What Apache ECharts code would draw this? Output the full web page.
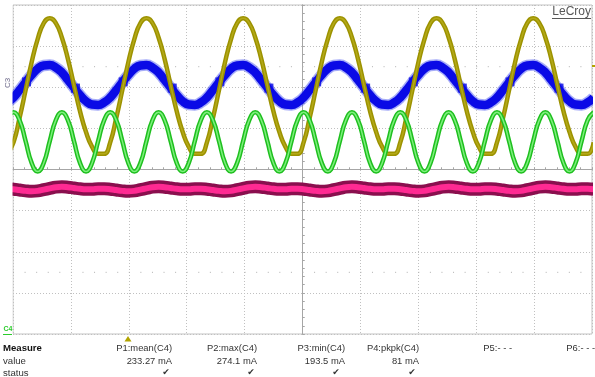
<!DOCTYPE html>
<html><head><meta charset="utf-8">
<script src="https://cdn.jsdelivr.net/npm/echarts@6/dist/echarts.min.js"></script>
<style>html,body{margin:0;padding:0;background:#fff}#c{width:595px;height:377px}</style>
</head><body><div id="c"></div>
<script>
// time of each sample (ms), 10 ms/div, 10 divisions
const timeMs = [
-50.95,-49.91,-48.87,-47.82,-46.78,-45.74,-44.69,-43.65,-42.60,-41.56,
-40.52,-39.47,-38.43,-37.39,-36.34,-35.30,-34.25,-33.21,-32.17,-31.12,
-30.08,-29.04,-27.99,-26.95,-25.90,-24.86,-23.82,-22.77,-21.73,-20.69,
-19.64,-18.60,-17.55,-16.51,-15.47,-14.42,-13.38,-12.34,-11.29,-10.25,
-9.20,-8.16,-7.12,-6.07,-5.03,-3.99,-2.94,-1.90,-0.85,0.19,
1.23,2.28,3.32,4.37,5.41,6.45,7.50,8.54,9.58,10.63,
11.67,12.72,13.76,14.80,15.85,16.89,17.93,18.98,20.02,21.07,
22.11,23.15,24.20,25.24,26.28,27.33,28.37,29.42,30.46,31.50,
32.55,33.59,34.63,35.68,36.72,37.77,38.81,39.85,40.90,41.94,
42.98,44.03,45.07,46.12,47.16,48.20,49.25,50.29];
// traces, in screen divisions (-4..4)
const c1Yellow = [
0.38,0.66,1.25,1.93,2.61,3.17,3.56,3.68,3.56,3.21,
2.69,2.05,1.42,0.91,0.55,0.38,0.38,0.66,1.25,1.93,
2.61,3.17,3.56,3.68,3.56,3.21,2.69,2.05,1.42,0.91,
0.55,0.38,0.38,0.66,1.25,1.93,2.61,3.17,3.56,3.68,
3.56,3.21,2.69,2.05,1.42,0.91,0.55,0.38,0.38,0.66,
1.25,1.93,2.61,3.17,3.56,3.68,3.56,3.21,2.69,2.05,
1.42,0.91,0.55,0.38,0.38,0.66,1.25,1.93,2.61,3.17,
3.56,3.68,3.56,3.21,2.69,2.05,1.42,0.91,0.55,0.38,
0.38,0.66,1.25,1.93,2.61,3.17,3.56,3.68,3.56,3.21,
2.69,2.05,1.42,0.91,0.55,0.38,0.38,0.66];
const c3Blue = [
1.63,1.75,1.93,2.12,2.30,2.45,2.53,2.54,2.48,2.36,
2.18,1.99,1.81,1.66,1.58,1.57,1.63,1.75,1.93,2.12,
2.30,2.45,2.53,2.54,2.48,2.36,2.18,1.99,1.81,1.66,
1.58,1.57,1.63,1.75,1.93,2.12,2.30,2.45,2.53,2.54,
2.48,2.36,2.18,1.99,1.81,1.66,1.58,1.57,1.63,1.75,
1.93,2.12,2.30,2.45,2.53,2.54,2.48,2.36,2.18,1.99,
1.81,1.66,1.58,1.57,1.63,1.75,1.93,2.12,2.30,2.45,
2.53,2.54,2.48,2.36,2.18,1.99,1.81,1.66,1.58,1.57,
1.63,1.75,1.93,2.12,2.30,2.45,2.53,2.54,2.48,2.36,
2.18,1.99,1.81,1.66,1.58,1.57,1.63,1.75];
const c4Green = [
1.20,1.39,1.20,0.69,0.16,-0.05,0.16,0.69,1.20,1.39,
1.20,0.69,0.16,-0.05,0.16,0.69,1.20,1.39,1.20,0.69,
0.16,-0.05,0.16,0.69,1.20,1.39,1.20,0.69,0.16,-0.05,
0.16,0.69,1.20,1.39,1.20,0.69,0.16,-0.05,0.16,0.69,
1.20,1.39,1.20,0.69,0.16,-0.05,0.16,0.69,1.20,1.39,
1.20,0.69,0.16,-0.05,0.16,0.69,1.20,1.39,1.20,0.69,
0.16,-0.05,0.16,0.69,1.20,1.39,1.20,0.69,0.16,-0.05,
0.16,0.69,1.20,1.39,1.20,0.69,0.16,-0.05,0.16,0.69,
1.20,1.39,1.20,0.69,0.16,-0.05,0.16,0.69,1.20,1.39,
1.20,0.69,0.16,-0.05,0.16,0.69,1.20,1.39];
const c2Pink = [
-0.47,-0.48,-0.50,-0.52,-0.53,-0.52,-0.49,-0.46,-0.43,-0.42,
-0.43,-0.45,-0.47,-0.48,-0.48,-0.47,-0.47,-0.48,-0.50,-0.52,
-0.53,-0.52,-0.49,-0.46,-0.43,-0.42,-0.43,-0.45,-0.47,-0.48,
-0.48,-0.47,-0.47,-0.48,-0.50,-0.52,-0.53,-0.52,-0.49,-0.46,
-0.43,-0.42,-0.43,-0.45,-0.47,-0.48,-0.48,-0.47,-0.47,-0.48,
-0.50,-0.52,-0.53,-0.52,-0.49,-0.46,-0.43,-0.42,-0.43,-0.45,
-0.47,-0.48,-0.48,-0.47,-0.47,-0.48,-0.50,-0.52,-0.53,-0.52,
-0.49,-0.46,-0.43,-0.42,-0.43,-0.45,-0.47,-0.48,-0.48,-0.47,
-0.47,-0.48,-0.50,-0.52,-0.53,-0.52,-0.49,-0.46,-0.43,-0.42,
-0.43,-0.45,-0.47,-0.48,-0.48,-0.47,-0.47,-0.48];
// blue trace crossing markers
const blueMarkRiseT = [-47.67,-30.97,-14.27,2.44,19.14,35.84];
const blueMarkRiseY = 2.13;
const blueMarkFallT = [-39.21,-22.50,-5.80,10.90,27.60,44.30];
const blueMarkFallY = 1.98;
const quarterRows = [2.5, -2.5];
// measurement table
const measureNames = ['P1:mean(C4)','P2:max(C4)','P3:min(C4)','P4:pkpk(C4)','P5:- - -','P6:- - -'];
const measureValues = ['233.27 mA','274.1 mA','193.5 mA','81 mA','',''];
const measureStatus = ['\u2714','\u2714','\u2714','\u2714','',''];

const pairs = (ys) => timeMs.map((t,i)=>[t, ys[i]]);
const FONT = '"Liberation Sans", Arial, sans-serif';
const AX = '#a6a6a6';
function xAx(inside, split){
  return {type:'value', min:-50, max:50, interval:10,
    axisLine:{show:true,onZero:true,lineStyle:{color:AX,width:1}},
    axisTick:{show:true,inside:inside,length:2,lineStyle:{color:AX}},
    minorTick:{show:true,splitNumber:5,length:2,lineStyle:{color:AX}},
    axisLabel:{show:false},
    splitLine:{show:split,lineStyle:{color:'#c0c0c0',type:[1,2],width:1}}};
}
function yAx(inside, split){
  return {type:'value', min:-4, max:4, interval:1,
    axisLine:{show:true,onZero:true,lineStyle:{color:AX,width:1}},
    axisTick:{show:true,inside:inside,length:2,lineStyle:{color:AX}},
    minorTick:{show:true,splitNumber:5,length:2,lineStyle:{color:AX}},
    axisLabel:{show:false},
    splitLine:{show:split,lineStyle:{color:'#c0c0c0',type:[1,2],width:1}}};
}
const lineS = (name, ys, color, width, z, opacity) => ({
  type:'line', name, data:pairs(ys), smooth:true, showSymbol:false, z,
  lineStyle:{color, width, opacity: opacity==null?1:opacity, cap:'butt', join:'round'},
  silent:true, animation:false
});

const graphic = [];
// white margins so that thick traces stop at the screen border
graphic.push({type:'rect', z:50, shape:{x:0,y:0,width:12.5,height:336}, style:{fill:'#fff'}});
graphic.push({type:'rect', z:50, shape:{x:593,y:0,width:4,height:336}, style:{fill:'#fff'}});
graphic.push({type:'text', x:591, y:12, z:100, style:{text:'LeCroy', fill:'#585858', font:'12px '+FONT, align:'right', verticalAlign:'middle'}});
graphic.push({type:'line', z:100, shape:{x1:552,y1:18.5,x2:591,y2:18.5}, style:{stroke:'#585858', lineWidth:1}});
graphic.push({type:'polygon', z:100, shape:{points:[[128,336],[124.5,341.5],[131.5,341.5]]}, style:{fill:'#b2a400'}});
graphic.push({type:'line', z:100, shape:{x1:592,y1:66,x2:595,y2:66}, style:{stroke:'#b2a400', lineWidth:2}});
graphic.push({type:'text', x:8, y:83, rotation:Math.PI/2, z:100, style:{text:'C3', fill:'#6e6a8a', font:'8px '+FONT, align:'center', verticalAlign:'middle'}});
graphic.push({type:'text', x:8, y:329, z:100, style:{text:'C4', fill:'#2ccc2c', font:'bold 7px '+FONT, align:'center', verticalAlign:'middle'}});
graphic.push({type:'line', z:100, shape:{x1:3,y1:334.5,x2:12,y2:334.5}, style:{stroke:'#2ccc2c', lineWidth:1}});
graphic.push({type:'text', x:3, y:348, style:{text:'Measure', fill:'#111', font:'bold 9.6px '+FONT, align:'left', verticalAlign:'middle'}});
graphic.push({type:'text', x:3, y:361, style:{text:'value', fill:'#333', font:'9.6px '+FONT, align:'left', verticalAlign:'middle'}});
graphic.push({type:'text', x:3, y:373, style:{text:'status', fill:'#333', font:'9.6px '+FONT, align:'left', verticalAlign:'middle'}});
const colRight = [172, 257, 345, 419, 512, 595];
const checkX = [166, 251, 336, 412, 0, 0];
measureNames.forEach((n,i)=>{
  graphic.push({type:'text', x:colRight[i], y:348, style:{text:n, fill:'#333', font:'9.4px '+FONT, align:'right', verticalAlign:'middle'}});
  if (measureValues[i]) graphic.push({type:'text', x:colRight[i], y:361, style:{text:measureValues[i], fill:'#333', font:'9.4px '+FONT, align:'right', verticalAlign:'middle'}});
  if (measureStatus[i]) graphic.push({type:'text', x:checkX[i], y:373, style:{text:measureStatus[i], fill:'#333', font:'9px "DejaVu Sans"', align:'center', verticalAlign:'middle'}});
});

const option = {
  animation:false,
  backgroundColor:'#ffffff',
  grid:{left:13,right:3,top:5,bottom:43,show:true,borderColor:'#c2c2c2',borderWidth:1,backgroundColor:'transparent'},
  xAxis:[xAx(true,true), xAx(false,false)],
  yAxis:[yAx(true,true), yAx(false,false)],
  series:[
    ...quarterRows.map((r,i)=>({type:'line', data:[[-50,r],[50,r]], showSymbol:false, z:1, silent:true,
       lineStyle:{color:'#b0b0b0', width:1, type:[1,10.58]}})),
    lineS('C3 fuzz', c3Blue, '#3a48f0', 11.5, 3, 0.45),
    lineS('C3', c3Blue, '#0a0ae6', 8.5, 4),
    {type:'scatter', z:5, silent:true, symbol:'rect', symbolSize:9, itemStyle:{color:'#0a0ae6'},
     data:blueMarkRiseT.map(t=>[t,blueMarkRiseY]).concat(blueMarkFallT.map(t=>[t,blueMarkFallY]))},
    lineS('C1', c1Yellow, '#9c9200', 4.5, 6),
    lineS('C1 core', c1Yellow, '#b4a918', 1.5, 7),
    lineS('C4', c4Green, '#1fbf1f', 4.5, 8),
    lineS('C4 core', c4Green, '#7cf07c', 1.5, 9),
    lineS('C2 fuzz', c2Pink, '#8a0f4e', 13, 10),
    lineS('C2', c2Pink, '#ff2a92', 6, 11)
  ],
  graphic
};
const chart = echarts.init(document.getElementById('c'), null, {renderer:'canvas'});
chart.setOption(option);
</script></body></html>
